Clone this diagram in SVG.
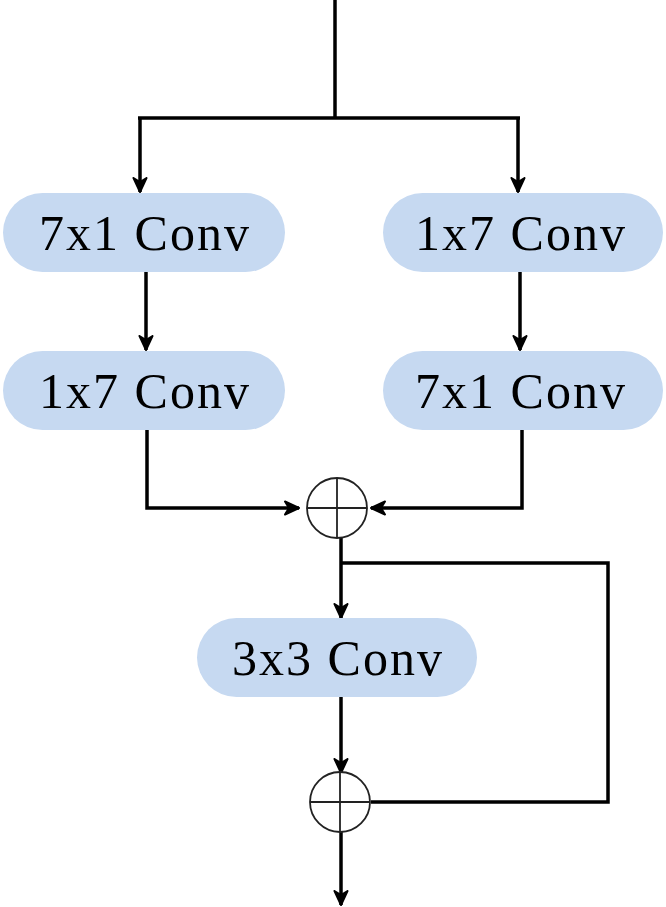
<svg xmlns="http://www.w3.org/2000/svg" width="666" height="907" viewBox="0 0 666 907">
<defs>
<marker id="ah" viewBox="0 0 16 16" refX="15" refY="8" markerWidth="16" markerHeight="16" markerUnits="userSpaceOnUse" orient="auto">
<path d="M1,1.5 L15,8 L1,14.5 L5,8 Z" fill="#000" stroke="#000" stroke-width="2" stroke-linejoin="round"/>
</marker>
</defs>
<style>
.box{fill:#c6d9f1;}
.lbl{font-family:"Liberation Serif","DejaVu Serif",serif;font-size:50px;fill:#000;text-anchor:middle;letter-spacing:2px;}
.ln{fill:none;stroke:#000;stroke-width:3.5;}
.sum{fill:#fff;stroke:#222;stroke-width:1.8;}
</style>
<rect width="666" height="907" fill="#fff"/>
<g id="connectors">
<path class="ln" d="M335,0 V118"/>
<path class="ln" d="M138,118 H520"/>
<path class="ln" d="M140,118 V192" marker-end="url(#ah)"/>
<path class="ln" d="M518,118 V192" marker-end="url(#ah)"/>
<path class="ln" d="M146,272 V350" marker-end="url(#ah)"/>
<path class="ln" d="M520,272 V350" marker-end="url(#ah)"/>
<path class="ln" d="M147,430 V508 H299" marker-end="url(#ah)"/>
<path class="ln" d="M522,430 V508 H371" marker-end="url(#ah)"/>
<path class="ln" d="M341,538 V618" marker-end="url(#ah)"/>
<path class="ln" d="M341,563 H608 V802 H371"/>
<path class="ln" d="M341,697 V773" marker-end="url(#ah)"/>
<path class="ln" d="M341,832 V905" marker-end="url(#ah)"/>
</g>
<g id="n1"><rect class="box" x="3" y="193" width="282" height="79" rx="39.5"/><text class="lbl" x="145" y="250">7x1 Conv</text></g>
<g id="n2"><rect class="box" x="383" y="193" width="280" height="79" rx="39.5"/><text class="lbl" x="521" y="250">1x7 Conv</text></g>
<g id="n3"><rect class="box" x="3" y="351" width="282" height="79" rx="39.5"/><text class="lbl" x="145" y="408">1x7 Conv</text></g>
<g id="n4"><rect class="box" x="383" y="351" width="280" height="79" rx="39.5"/><text class="lbl" x="521" y="408">7x1 Conv</text></g>
<g id="n5"><rect class="box" x="197" y="618" width="280" height="79" rx="39.5"/><text class="lbl" x="338" y="675">3x3 Conv</text></g>
<g id="sum1"><circle class="sum" cx="337" cy="508" r="30"/><path class="sum" d="M307,508 H367 M337,478 V538"/></g>
<g id="sum2"><circle class="sum" cx="340" cy="802" r="30"/><path class="sum" d="M310,802 H370 M340,772 V832"/></g>
</svg>
